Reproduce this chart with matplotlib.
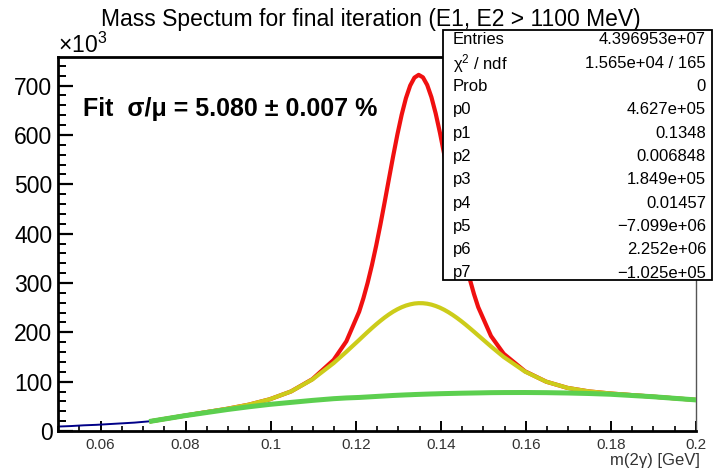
import matplotlib.pyplot as plt
import numpy as np
from matplotlib.patches import Rectangle
from matplotlib.ticker import MultipleLocator, FuncFormatter

plt.rcParams['font.family'] = ['Liberation Sans', 'DejaVu Sans']
plt.rcParams['mathtext.fontset'] = 'custom'
plt.rcParams['mathtext.rm'] = 'Liberation Sans'
plt.rcParams['mathtext.it'] = 'Liberation Sans:italic'
plt.rcParams['mathtext.bf'] = 'Liberation Sans:bold'

# Data
fit_x = [0.0720, 0.0798, 0.0898, 0.0948, 0.0998, 0.1048, 0.1098, 0.1148, 0.1178,
         0.1208, 0.1218, 0.1228, 0.1238, 0.1248, 0.1258, 0.1268, 0.1278, 0.1288,
         0.1298, 0.1308, 0.1318, 0.1328, 0.1338, 0.1348, 0.1358, 0.1368, 0.1378,
         0.1388, 0.1398, 0.1408, 0.1418, 0.1428, 0.1438, 0.1448, 0.1458, 0.1468,
         0.1478, 0.1488,
         0.1518, 0.1548, 0.1598, 0.1648, 0.1698, 0.1748, 0.1798, 0.1898, 0.2000]
background = [20000, 31000, 43500, 49000, 54000, 58000, 62000, 65500, 67000,
              68000, 68500, 69000, 69500, 70000, 70500, 71000, 71500, 72000,
              72400, 72800, 73200, 73500, 73900, 74200, 74500, 74800, 75100,
              75300, 75600, 75800, 76000, 76200, 76400, 76600, 76750, 76900,
              77050, 77200,
              77700, 77900, 78000, 77700, 77000, 76000, 74500, 69500, 63000]
wide_peak = [17, 149, 1570, 4266, 10323, 22199, 42425, 72076, 93611,
             116530, 124190, 131710, 139047, 146095, 152785, 159027, 164744, 169868,
             174328, 178061, 181021, 183166, 184465, 184900, 184465, 183166, 181021,
             178061, 174328, 169868, 164744, 159027, 152785, 146095, 139047, 131710,
             124190, 116530,
             93611, 72076, 42425, 22199, 10323, 4266, 1570, 149, 9]
narrow_peak = [0, 0, 0, 0, 0, 31, 590, 6503, 21233,
               57245, 76336, 99652, 127354, 159307, 195088, 233853, 274423, 315214,
               354442, 390135, 420363, 443360, 457792, 462700, 457792, 443360, 420363,
               390135, 354442, 315214, 274423, 233853, 195088, 159307, 127354, 99652,
               76336, 57245,
               21233, 6503, 590, 31, 0, 0, 0, 0, 0]
hist_x_low = [0.050, 0.053, 0.056, 0.059, 0.062, 0.065, 0.068, 0.072]
hist_y_low = [9000, 10000, 11500, 12500, 14000, 15500, 17000, 20000]

stats_labels = ['Entries', r'$\mathrm{\chi}^{2}$ / ndf', 'Prob', 'p0', 'p1', 'p2',
                'p3', 'p4', 'p5', 'p6', 'p7']
stats_values = ['4.396953e+07', '1.565e+04 / 165', '0', '4.627e+05', '0.1348',
                '0.006848', '1.849e+05', '0.01457', '\u22127.099e+06',
                '2.252e+06', '\u22121.025e+05']

W, H = 717, 469
fx = lambda px: px / W
fy = lambda py: 1 - py / H

fig = plt.figure(figsize=(W / 100, H / 100), dpi=100)
ax = fig.add_axes([fx(58), fy(431), fx(696) - fx(58), fy(57) - fy(431)])

yellow_y = np.array(background) + np.array(wide_peak)
red_y = yellow_y + np.array(narrow_peak)

ax.plot(np.concatenate([hist_x_low, fit_x]), np.concatenate([hist_y_low, red_y]),
        color='#000088', lw=1.4, zorder=2)
ax.plot(fit_x, red_y, color='#f01010', lw=3.0, zorder=3)
ax.plot(fit_x, yellow_y, color='#cccc1a', lw=3.0, zorder=4)
ax.plot(fit_x, background, color='#5ccf4f', lw=3.6, zorder=5)

ax.set_xlim(0.05, 0.2)
ax.set_ylim(0, 758000)

ax.xaxis.set_major_locator(MultipleLocator(0.02))
ax.xaxis.set_minor_locator(MultipleLocator(0.005))
ax.yaxis.set_major_locator(MultipleLocator(100000))
ax.yaxis.set_minor_locator(MultipleLocator(20000))
ax.xaxis.set_major_formatter(FuncFormatter(lambda v, p: f'{v:g}'))
ax.yaxis.set_major_formatter(FuncFormatter(lambda v, p: f'{v / 1000:.0f}'))

ax.tick_params(axis='y', which='major', direction='in', length=10.5, width=1.6,
               labelsize=16.5, pad=4)
ax.tick_params(axis='y', which='minor', direction='in', length=5.5, width=1.4)
ax.tick_params(axis='x', which='major', direction='in', length=7.5, width=1.4,
               labelsize=11, pad=5, labelcolor='#333333')
ax.tick_params(axis='x', which='minor', direction='in', length=3.5, width=1.2)

for s in ['left', 'bottom', 'top']:
    ax.spines[s].set_linewidth(2.0)
ax.spines['right'].set_linewidth(1.0)
ax.spines['right'].set_color('#555555')

fig.text(fx(58), fy(53), r'$\times10^{3}$', fontsize=16.5, ha='left', va='baseline')
fig.text(fx(371), fy(26), 'Mass Spectum for final iteration (E1, E2 > 1100 MeV)',
         fontsize=16.5, ha='center', va='baseline')
fig.text(fx(700), fy(465), 'm(2\u03b3) [GeV]', fontsize=12, ha='right',
         va='baseline', color='#333333')
fig.text(fx(83), fy(116), 'Fit  \u03c3/\u03bc = 5.080 \u00b1 0.007 %', fontsize=18,
         fontweight='bold', ha='left', va='baseline')

# Stats box
box = Rectangle((fx(443), fy(280)), fx(712) - fx(443), fy(30) - fy(280),
                transform=fig.transFigure, facecolor='white', edgecolor='black',
                lw=1.3, zorder=10)
fig.add_artist(box)
for i, (lab, val) in enumerate(zip(stats_labels, stats_values)):
    yc = 40 + 23.3 * i
    fig.text(fx(453), fy(yc), lab, fontsize=12, ha='left', va='center', zorder=11)
    fig.text(fx(706), fy(yc), val, fontsize=12, ha='right', va='center', zorder=11)

fig.savefig('out.png', dpi=100)
